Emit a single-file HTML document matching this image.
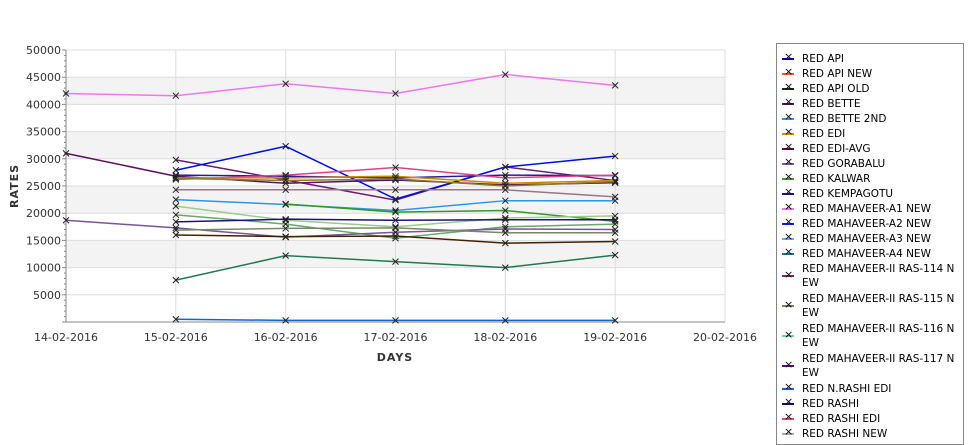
<!DOCTYPE html>
<html><head><meta charset="utf-8"><style>
body{margin:0;background:#fff;width:975px;height:429px;overflow:hidden;font-family:"DejaVu Sans","Liberation Sans",sans-serif;}
#legend{position:absolute;left:776px;top:43px;width:186px;height:400px;border:1px solid #888;background:#fff;font-size:10.5px;color:#000;}
.li{position:relative;padding-left:25px;line-height:12.5px;margin-bottom:2.5px;}
.li.w{line-height:13.5px;margin-bottom:3px;}
.li:first-child{margin-top:9px;}
.sw{position:absolute;left:5px;width:12px;height:2px;top:5px;}
.sw:after{content:"×";position:absolute;left:2px;top:-7px;font-size:11px;color:#000;}
</style></head><body>
<svg id="chart" width="975" height="429" style="position:absolute;left:0;top:0" font-family="DejaVu Sans, Liberation Sans, sans-serif"></svg>
<div id="legend"></div>
<script>
const categories=["14-02-2016","15-02-2016","16-02-2016","17-02-2016","18-02-2016","19-02-2016","20-02-2016"];
const yTicks=[5000,10000,15000,20000,25000,30000,35000,40000,45000,50000];
const legendLabels=["RED API","RED API NEW","RED API OLD","RED BETTE","RED BETTE 2ND","RED EDI","RED EDI-AVG","RED GORABALU","RED KALWAR","RED KEMPAGOTU","RED MAHAVEER-A1 NEW","RED MAHAVEER-A2 NEW","RED MAHAVEER-A3 NEW","RED MAHAVEER-A4 NEW","RED MAHAVEER-II RAS-114 N<br>EW","RED MAHAVEER-II RAS-115 N<br>EW","RED MAHAVEER-II RAS-116 N<br>EW","RED MAHAVEER-II RAS-117 N<br>EW","RED N.RASHI EDI","RED RASHI","RED RASHI EDI","RED RASHI NEW"];
const seriesColors=["#0000dd","#ff5522","#113311","#551155","#2299ff","#dd8800","#660044","#775599","#449922","#221177","#ee77ee","#1122ee","#66aaff","#117799","#882266","#778866","#55ddaa","#660099","#1166dd","#111155","#dd4488","#aaaaaa"];
const sPink=[42000,41600,43800,42000,45500,43500];
const sDarkPurple=[31000,26800,25500,26100,25200,25600];
const sPurple2=[null,29800,26100,22400,28500,26000];
const sBlue=[null,27900,32300,22600,28500,30500];
const sNavy1=[null,27000,26800,26500,27000,26900];
const sRashiEdi=[null,26200,27000,28400,26500,27000];
const sEdi=[null,26500,26500,26800,25500,26000];
const sOlive=[null,26400,26000,26300,25000,25800];
const sMauve=[null,24300,24300,24300,24300,23000];
const sBette2=[null,22500,21600,20500,22300,22300];
const sKalwar=[null,null,21700,20200,20500,18500];
const sLightGreen=[null,21300,18700,17500,19100,19500];
const sMedGreen=[null,19700,18000,15400,17500,18000];
const sNavy2=[null,18400,18900,18700,18800,18800];
const sGorabalu=[18700,17300,15600,16500,17100,17000];
const sGrayOlive=[null,16900,17200,17300,16400,16400];
const sBrown=[null,16000,15700,15800,14500,14800];
const sTeal=[null,7700,12200,11100,10000,12300];
const sLowBlue=[null,500,300,300,300,300];
const seriesList=[
[sPink,"#ee77ee"],[sDarkPurple,"#5a1060"],[sPurple2,"#6a1a70"],[sBlue,"#0010dd"],[sNavy1,"#2a1a99"],
[sRashiEdi,"#d84488"],[sEdi,"#cc8800"],[sOlive,"#8a7a30"],[sMauve,"#997788"],[sBette2,"#2299ee"],
[sKalwar,"#339922"],[sLightGreen,"#99cc88"],[sMedGreen,"#66aa66"],[sNavy2,"#221177"],[sGorabalu,"#775599"],
[sGrayOlive,"#778866"],[sBrown,"#442200"],[sTeal,"#227755"],[sLowBlue,"#1166cc"]];
const svg=document.getElementById('chart');const NS="http://www.w3.org/2000/svg";
const L=66,R=725,T=50,B=322,YMAX=50000;
const xs=i=>L+(R-L)*i/(categories.length-1);
const ys=v=>B-(B-T)*v/YMAX;
function mk(t,a,p){const e=document.createElementNS(NS,t);for(const k in a)e.setAttribute(k,a[k]);(p||svg).appendChild(e);return e;}
let e;
for(let i=0;i<yTicks.length;i++){const hi=yTicks[i];
 if(hi%10000===0&&hi<50000){e=mk('rect',{x:L,y:ys(hi+5000),width:R-L,height:ys(hi)-ys(hi+5000),fill:'#f3f3f3'});}}
yTicks.forEach(v=>{e=mk('line',{x1:L,x2:R,y1:ys(v),y2:ys(v),stroke:'#dcdcdc'});
 e=mk('text',{x:L-5,y:ys(v)+4,'text-anchor':'end','font-size':11,fill:'#333'});e.textContent=v;});
for(let v=0;v<=YMAX;v+=1000){e=mk('line',{x1:L-(v%5000===0?4:2),x2:L,y1:ys(v),y2:ys(v),stroke:'#888'});}
categories.forEach((c,i)=>{e=mk('line',{x1:xs(i),x2:xs(i),y1:T,y2:B,stroke:'#dcdcdc'});
 e=mk('text',{x:xs(i),y:B+19,'text-anchor':'middle','font-size':11,fill:'#333'});e.textContent=c;});
e=mk('line',{x1:L,x2:L,y1:T,y2:B,stroke:'#888'});
e=mk('line',{x1:L,x2:R,y1:B,y2:B,stroke:'#888'});
seriesList.forEach(([d,c])=>{let pts=[];d.forEach((v,i)=>{if(v!==null)pts.push(xs(i)+','+ys(v));});
 e=mk('polyline',{points:pts.join(' '),fill:'none',stroke:c,'stroke-width':1.5});
 d.forEach((v,i)=>{if(v===null)return;const x=xs(i),y=ys(v);
  e=mk('path',{d:`M${x-3},${y-3}L${x+3},${y+3}M${x-3},${y+3}L${x+3},${y-3}`,stroke:'#222','stroke-width':1});});});
e=mk('text',{x:18,y:186,'text-anchor':'middle','font-size':11,fill:'#333','font-weight':'bold',transform:'rotate(-90 18 186)','letter-spacing':'1'});e.textContent='RATES';
e=mk('text',{x:395,y:361,'text-anchor':'middle','font-size':11,fill:'#333','font-weight':'bold','letter-spacing':'1'});e.textContent='DAYS';
const lg=document.getElementById('legend');
legendLabels.forEach((n,i)=>{const d=document.createElement('div');
 const wrap=n.indexOf('<br>')>=0;
 d.className=wrap?'li w':'li';
 
 
 d.innerHTML=`<span class="sw" style="background:${seriesColors[i]};top:${wrap?12:5}px"></span>${n}`;lg.appendChild(d);});
</script>
</body></html>
